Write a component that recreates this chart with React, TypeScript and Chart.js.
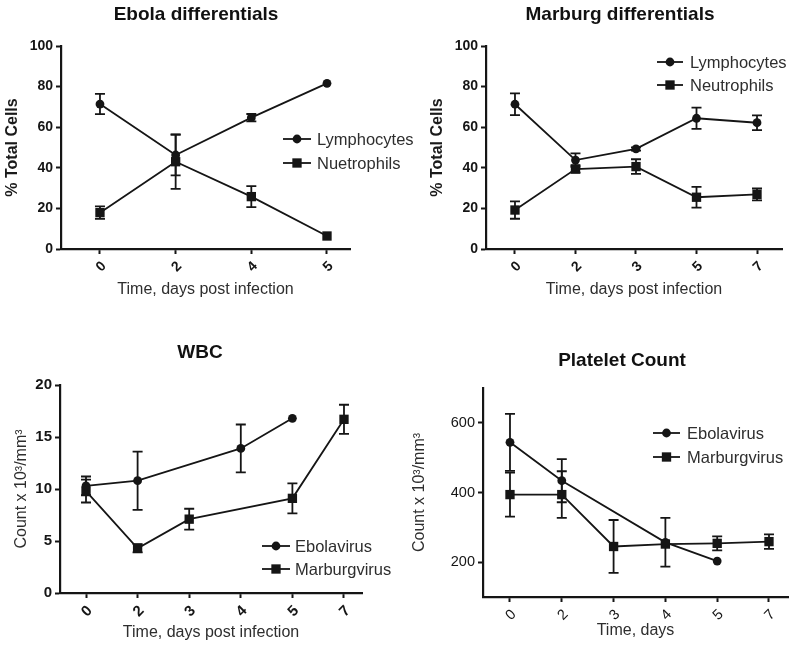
import React, { useEffect, useRef } from 'react';
import { Chart, registerables } from 'chart.js';

Chart.register(...registerables);

const FONT = "'Liberation Sans', Arial, Helvetica, sans-serif";
const INK = '#151515';
const GREY = '#2e2e2e';

// ---------- data ----------
const ebolaDiffDays = ['0', '2', '4', '5'];
const ebolaLymph = [71.4, 46.3, 64.7, 81.6];
const ebolaLymphErr = [5.0, 10.0, 1.8, 0];
const ebolaNeut = [17.9, 43.0, 25.8, 6.4];
const ebolaNeutErr = [3.1, 13.4, 5.2, 0];

const marburgDiffDays = ['0', '2', '3', '5', '7'];
const marburgLymph = [71.3, 43.8, 49.3, 64.4, 62.2];
const marburgLymphErr = [5.4, 3.3, 0.8, 5.2, 3.6];
const marburgNeut = [19.2, 39.4, 40.6, 25.5, 26.9];
const marburgNeutErr = [4.3, 1.8, 3.6, 5.1, 2.9];

const wbcDays = ['0', '2', '3', '4', '5', '7'];
const wbcEbola = [10.3, 10.8, null, 13.9, 16.8, null];
const wbcEbolaErr = [0.9, 2.8, null, 2.3, 0, null];
const wbcMarburg = [9.8, 4.3, 7.1, null, 9.1, 16.7];
const wbcMarburgErr = [1.1, 0.4, 1.0, null, 1.45, 1.4];

const pltDays = ['0', '2', '3', '4', '5', '7'];
const pltEbola = [544, 434, null, 257, 203, null];
const pltEbolaErr = [82, 62, null, 70, 0, null];
const pltMarburg = [394, 394, 245, 252, 254, 259];
const pltMarburgErr = [63, 67, 76, 0, 20, 21];

const diffTicks = [0, 20, 40, 60, 80, 100];
const wbcTicks = [0, 5, 10, 15, 20];
const pltTicks = [200, 400, 600];

// ---------- plugins ----------
function drawMarker(ctx: CanvasRenderingContext2D, style: string, x: number, y: number, r: number) {
  ctx.fillStyle = INK;
  ctx.beginPath();
  if (style === 'rect') {
    const s = Math.SQRT1_2 * r;
    ctx.rect(x - s, y - s, 2 * s, 2 * s);
  } else {
    ctx.arc(x, y, r, 0, Math.PI * 2);
  }
  ctx.fill();
}

const errorBarPlugin = {
  id: 'errorBars',
  beforeDatasetsDraw(chart: any) {
    const { ctx, scales } = chart;
    ctx.save();
    ctx.strokeStyle = INK;
    ctx.lineWidth = 1.8;
    chart.data.datasets.forEach((ds: any) => {
      ds.data.forEach((p: any) => {
        if (!p || !p.e) return;
        const x = scales.x.getPixelForValue(p.x);
        const yHi = scales.y.getPixelForValue(p.y + p.e);
        const yLo = scales.y.getPixelForValue(p.y - p.e);
        const cap = 5;
        ctx.beginPath();
        ctx.moveTo(x, yHi);
        ctx.lineTo(x, yLo);
        ctx.moveTo(x - cap, yHi);
        ctx.lineTo(x + cap, yHi);
        ctx.moveTo(x - cap, yLo);
        ctx.lineTo(x + cap, yLo);
        ctx.stroke();
      });
    });
    ctx.restore();
  },
};

const panelTextPlugin = {
  id: 'panelText',
  afterDraw(chart: any, _args: any, opts: any) {
    const { ctx } = chart;
    ctx.save();
    // title
    ctx.fillStyle = '#111';
    ctx.font = `bold ${opts.titleSize}px ${FONT}`;
    ctx.textAlign = 'center';
    ctx.textBaseline = 'middle';
    ctx.fillText(opts.title, opts.titleX, opts.titleY);
    // legend
    chart.data.datasets.forEach((ds: any, i: number) => {
      const y = opts.legY + i * opts.legRow;
      ctx.strokeStyle = INK;
      ctx.lineWidth = 1.8;
      ctx.beginPath();
      ctx.moveTo(opts.legX, y);
      ctx.lineTo(opts.legX + opts.legLen, y);
      ctx.stroke();
      drawMarker(ctx, ds.pointStyle, opts.legX + opts.legLen / 2, y, ds.pointRadius);
      ctx.fillStyle = GREY;
      ctx.font = `${opts.legSize}px ${FONT}`;
      ctx.textAlign = 'left';
      ctx.textBaseline = 'middle';
      ctx.fillText(ds.label, opts.legX + opts.legLen + opts.legGap, y + 1);
    });
    ctx.restore();
  },
};

// ---------- panel specs ----------
type Series = { label: string; values: (number | null)[]; err: (number | null)[]; style: string };
type Panel = {
  left: number; top: number; width: number; height: number;
  title: string; titleX: number; titleY: number; titleSize: number;
  area: { l: number; r: number; t: number; b: number };
  xMin: number; xMax: number; labels: string[];
  yMin: number; yMax: number; yTicks: number[];
  tickSize: number; tickBold: boolean;
  yTitle: string; yTitleX: number; yTitleSize: number; yTitleBold: boolean;
  xTitle: string; xTitleY: number; xTitleSize: number;
  leg: { x: number; y: number; row: number; len: number; gap: number; size: number };
  series: Series[];
};

const panels: Panel[] = [
  {
    left: 0, top: 0, width: 425, height: 326,
    title: 'Ebola differentials', titleX: 196, titleY: 15, titleSize: 19,
    area: { l: 61, r: 350, t: 46, b: 249 },
    xMin: -0.515, xMax: 3.304, labels: ebolaDiffDays,
    yMin: 0, yMax: 100, yTicks: diffTicks, tickSize: 14, tickBold: true,
    yTitle: '% Total Cells', yTitleX: 13, yTitleSize: 16, yTitleBold: true,
    xTitle: 'Time, days post infection', xTitleY: 290, xTitleSize: 16,
    leg: { x: 283, y: 139, row: 24, len: 28, gap: 6, size: 16.5 },
    series: [
      { label: 'Lymphocytes', values: ebolaLymph, err: ebolaLymphErr, style: 'circle' },
      { label: 'Nuetrophils', values: ebolaNeut, err: ebolaNeutErr, style: 'rect' },
    ],
  },
  {
    left: 400, top: 0, width: 400, height: 326,
    title: 'Marburg differentials', titleX: 220, titleY: 15, titleSize: 19,
    area: { l: 86, r: 382, t: 46, b: 249 },
    xMin: -0.479, xMax: 4.413, labels: marburgDiffDays,
    yMin: 0, yMax: 100, yTicks: diffTicks, tickSize: 14, tickBold: true,
    yTitle: '% Total Cells', yTitleX: 38, yTitleSize: 16, yTitleBold: true,
    xTitle: 'Time, days post infection', xTitleY: 290, xTitleSize: 16,
    leg: { x: 257, y: 62, row: 23, len: 26, gap: 7, size: 16.5 },
    series: [
      { label: 'Lymphocytes', values: marburgLymph, err: marburgLymphErr, style: 'circle' },
      { label: 'Neutrophils', values: marburgNeut, err: marburgNeutErr, style: 'rect' },
    ],
  },
  {
    left: 0, top: 326, width: 400, height: 326,
    title: 'WBC', titleX: 200, titleY: 27, titleSize: 19,
    area: { l: 60, r: 362, t: 59, b: 267 },
    xMin: -0.504, xMax: 5.349, labels: wbcDays,
    yMin: 0, yMax: 20, yTicks: wbcTicks, tickSize: 15, tickBold: true,
    yTitle: 'Count x 10³/mm³', yTitleX: 22, yTitleSize: 16, yTitleBold: false,
    xTitle: 'Time, days post infection', xTitleY: 307, xTitleSize: 16,
    leg: { x: 262, y: 220, row: 23, len: 28, gap: 5, size: 16.5 },
    series: [
      { label: 'Ebolavirus', values: wbcEbola, err: wbcEbolaErr, style: 'circle' },
      { label: 'Marburgvirus', values: wbcMarburg, err: wbcMarburgErr, style: 'rect' },
    ],
  },
  {
    left: 400, top: 326, width: 400, height: 326,
    title: 'Platelet Count', titleX: 222, titleY: 35, titleSize: 19,
    area: { l: 83, r: 388, t: 62, b: 271 },
    xMin: -0.521, xMax: 5.367, labels: pltDays,
    yMin: 100, yMax: 700, yTicks: pltTicks, tickSize: 14.5, tickBold: false,
    yTitle: 'Count x 10³/mm³', yTitleX: 20, yTitleSize: 16, yTitleBold: false,
    xTitle: 'Time, days', xTitleY: 305, xTitleSize: 16,
    leg: { x: 253, y: 107, row: 24, len: 27, gap: 7, size: 16.5 },
    series: [
      { label: 'Ebolavirus', values: pltEbola, err: pltEbolaErr, style: 'circle' },
      { label: 'Marburgvirus', values: pltMarburg, err: pltMarburgErr, style: 'rect' },
    ],
  },
];

function buildConfig(p: Panel): any {
  const datasets = p.series.map((s) => ({
    label: s.label,
    data: s.values
      .map((v, i) => (v == null ? null : { x: i, y: v, e: s.err[i] || 0 }))
      .filter((d) => d !== null),
    borderColor: INK,
    backgroundColor: INK,
    borderWidth: 1.8,
    pointStyle: s.style,
    pointRadius: s.style === 'rect' ? 6.6 : 4.4,
    pointBorderWidth: 0,
    pointBackgroundColor: INK,
    tension: 0,
    fill: false,
  }));
  const tickFont = { family: FONT, size: p.tickSize, weight: p.tickBold ? 'bold' : 'normal' };
  const axisGrid = {
    display: true,
    drawOnChartArea: false,
    drawTicks: true,
    tickLength: 5,
    tickWidth: 2,
    color: INK,
    tickColor: INK,
  };
  const axisBorder = { display: true, color: INK, width: 2.2 };
  const xtLH = p.xTitleSize * 1.2;
  const ytLH = p.yTitleSize * 1.2;
  return {
    type: 'line',
    data: { datasets },
    options: {
      responsive: false,
      animation: false,
      devicePixelRatio: 1,
      layout: { padding: { left: 0, top: p.area.t, right: p.width - p.area.r, bottom: 0 } },
      plugins: {
        legend: { display: false },
        title: { display: false },
        tooltip: { enabled: false },
        panelText: {
          title: p.title, titleX: p.titleX, titleY: p.titleY, titleSize: p.titleSize,
          legX: p.leg.x, legY: p.leg.y, legRow: p.leg.row, legLen: p.leg.len, legGap: p.leg.gap, legSize: p.leg.size,
        },
      },
      scales: {
        x: {
          type: 'linear',
          min: p.xMin,
          max: p.xMax,
          afterBuildTicks: (s: any) => {
            s.ticks = p.labels.map((_, i) => ({ value: i }));
          },
          afterFit: (s: any) => {
            s.height = p.height - p.area.b;
          },
          ticks: {
            autoSkip: false,
            minRotation: 45,
            maxRotation: 45,
            padding: 4,
            labelOffset: 4,
            color: INK,
            font: tickFont,
            callback: (v: any) => p.labels[Math.round(v)] ?? '',
          },
          grid: axisGrid,
          border: axisBorder,
          title: {
            display: true,
            text: p.xTitle,
            color: GREY,
            font: { family: FONT, size: p.xTitleSize, weight: 'normal', lineHeight: 1.2 },
            padding: { top: 0, bottom: p.height - p.xTitleY - xtLH / 2 },
          },
        },
        y: {
          type: 'linear',
          min: p.yMin,
          max: p.yMax,
          afterBuildTicks: (s: any) => {
            s.ticks = p.yTicks.map((v) => ({ value: v }));
          },
          afterFit: (s: any) => {
            s.width = p.area.l;
          },
          ticks: { padding: 3, color: INK, font: tickFont },
          grid: axisGrid,
          border: axisBorder,
          title: {
            display: true,
            text: p.yTitle,
            color: p.yTitleBold ? '#1a1a1a' : GREY,
            font: { family: FONT, size: p.yTitleSize, weight: p.yTitleBold ? 'bold' : 'normal', lineHeight: 1.2 },
            padding: { top: p.yTitleX - ytLH / 2, bottom: 0 },
          },
        },
      },
    },
    plugins: [errorBarPlugin, panelTextPlugin],
  };
}

function PanelChart({ spec }: { spec: Panel }) {
  const ref = useRef<HTMLCanvasElement | null>(null);
  useEffect(() => {
    if (!ref.current) return;
    const chart = new Chart(ref.current, buildConfig(spec));
    return () => chart.destroy();
  }, [spec]);
  return (
    <canvas
      ref={ref}
      width={spec.width}
      height={spec.height}
      style={{
        position: 'absolute',
        left: spec.left,
        top: spec.top,
        width: spec.width,
        height: spec.height,
      }}
    />
  );
}

export default function App() {
  return (
    <div
      style={{
        position: 'fixed',
        left: 0,
        top: 0,
        width: 800,
        height: 652,
        background: '#ffffff',
        overflow: 'hidden',
      }}
    >
      {panels.map((p, i) => (
        <PanelChart key={i} spec={p} />
      ))}
    </div>
  );
}
